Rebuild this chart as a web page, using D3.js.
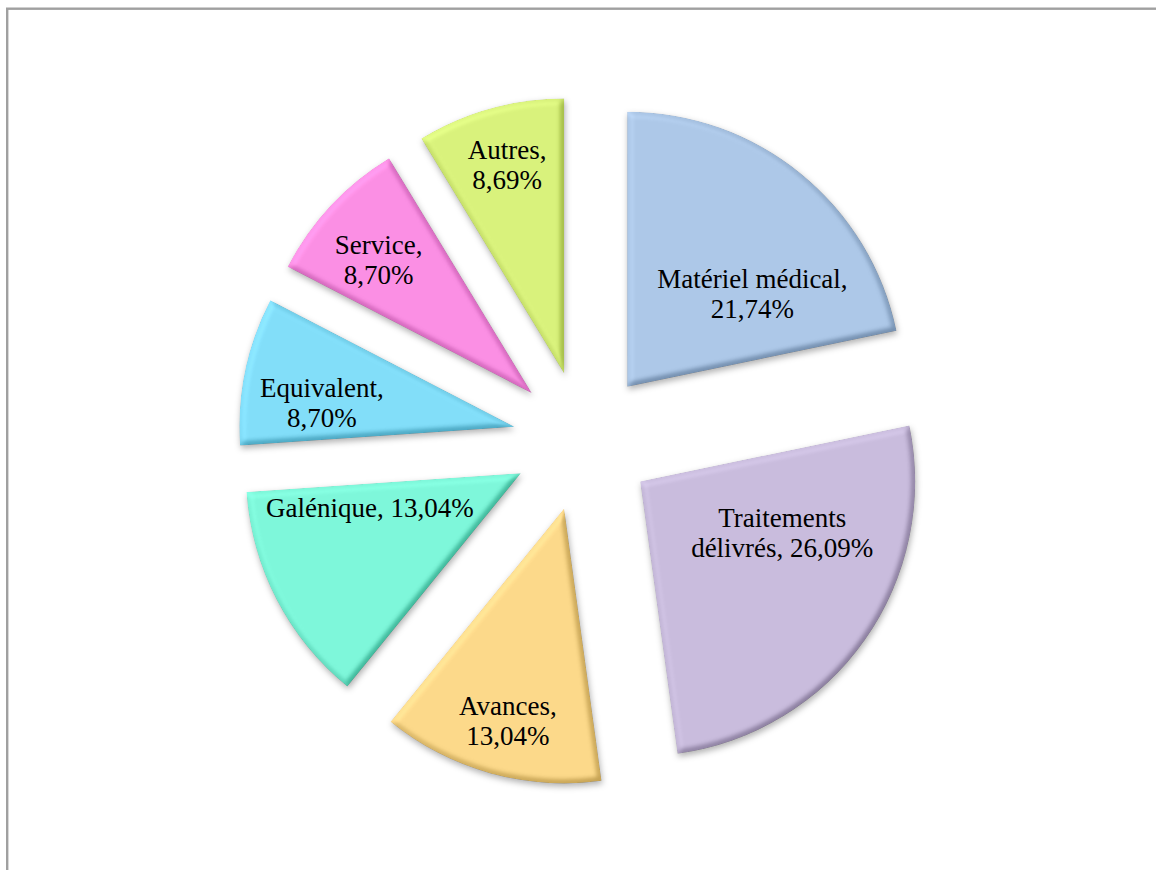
<!DOCTYPE html>
<html>
<head>
<meta charset="utf-8">
<script src="https://cdn.jsdelivr.net/npm/d3@7"></script>
<style>
  html, body { margin: 0; padding: 0; background: #fff; }
  svg { display: block; }
</style>
</head>
<body>
<div id="chart"></div>
<script>
const categories = [
  'Matériel médical',
  'Traitements délivrés',
  'Avances',
  'Galénique',
  'Equivalent',
  'Service',
  'Autres',
];
const values = [21.74, 26.09, 13.04, 13.04, 8.7, 8.7, 8.69];
const colors = [
  '#adc8e8',
  '#c9bcdd',
  '#fcd98a',
  '#7ef7da',
  '#82def9',
  '#fb8fe4',
  '#d9f27c',
];

// label placement: distance from slice tip, angle (deg, clockwise from up), wrap width
const labelLayout = [
  [156, 53.4, 210],
  [151, 109.8, 200],
  [220, 194.8, 150],
  [155, 256.9, 220],
  [194, 277.1, 150],
  [203, 311, 150],
  [216, 344.7, 150],
];

const width = 1156;
const height = 870;
const cx = 583;
const cy = 441;
const radius = 275;
const explode = 70;
const lineHeight = 30;
const lightElevation = 55;
const bevelStrength = 0.28;

const svg = d3
  .select('#chart')
  .append('svg')
  .attr('width', width)
  .attr('height', height)
  .attr('xmlns', 'http://www.w3.org/2000/svg');

/* Filter: soft bevel + shadow
-----------------------------------------------------------------------------*/
const defs = svg.append('defs');
const filter = defs
  .append('filter')
  .attr('id', 'bevel')
  .attr('x', '-10%')
  .attr('y', '-10%')
  .attr('width', '120%')
  .attr('height', '125%')
  .attr('color-interpolation-filters', 'sRGB');

filter
  .append('feGaussianBlur')
  .attr('in', 'SourceAlpha')
  .attr('stdDeviation', 3)
  .attr('result', 'blur');

filter
  .append('feDiffuseLighting')
  .attr('in', 'blur')
  .attr('surfaceScale', 6)
  .attr('diffuseConstant', 1)
  .attr('lighting-color', '#ffffff')
  .attr('result', 'light')
  .append('feDistantLight')
  .attr('azimuth', 225)
  .attr('elevation', lightElevation);

// flat areas keep their colour, edges get lighter or darker
filter
  .append('feComposite')
  .attr('in', 'SourceGraphic')
  .attr('in2', 'light')
  .attr('operator', 'arithmetic')
  .attr('k1', 0)
  .attr('k2', 1)
  .attr('k3', bevelStrength)
  .attr('k4', -bevelStrength * Math.sin((lightElevation * Math.PI) / 180))
  .attr('result', 'lit');

filter
  .append('feComposite')
  .attr('in', 'lit')
  .attr('in2', 'SourceAlpha')
  .attr('operator', 'in')
  .attr('result', 'litIn');

filter
  .append('feGaussianBlur')
  .attr('in', 'SourceAlpha')
  .attr('stdDeviation', 3)
  .attr('result', 'sblur');
filter
  .append('feOffset')
  .attr('in', 'sblur')
  .attr('dx', 1)
  .attr('dy', 3)
  .attr('result', 'soff');
filter
  .append('feFlood')
  .attr('flood-color', '#000')
  .attr('flood-opacity', 0.3)
  .attr('result', 'flood');
filter
  .append('feComposite')
  .attr('in', 'flood')
  .attr('in2', 'soff')
  .attr('operator', 'in')
  .attr('result', 'shadow');

const merge = filter.append('feMerge');
merge.append('feMergeNode').attr('in', 'shadow');
merge.append('feMergeNode').attr('in', 'litIn');

/* Frame
-----------------------------------------------------------------------------*/
svg
  .append('rect')
  .attr('x', 7.2)
  .attr('y', 8.7)
  .attr('width', width + 20)
  .attr('height', height + 20)
  .attr('fill', 'none')
  .attr('stroke', '#a0a0a0')
  .attr('stroke-width', 2.4);

/* Pie
-----------------------------------------------------------------------------*/
const data = categories.map((name, i) => ({
  name,
  value: values[i],
  color: colors[i],
  layout: labelLayout[i],
}));

const pie = d3
  .pie()
  .sort(null)
  .value((d) => d.value)
  .startAngle(0)
  .endAngle(2 * Math.PI);

const arc = d3.arc().innerRadius(0).outerRadius(radius);

const slices = svg
  .append('g')
  .attr('transform', `translate(${cx}, ${cy})`)
  .selectAll('g.slice')
  .data(pie(data))
  .join('g')
  .attr('class', 'slice')
  .attr('transform', (d) => {
    const mid = (d.startAngle + d.endAngle) / 2;
    return `translate(${explode * Math.sin(mid)}, ${-explode * Math.cos(mid)})`;
  });

slices
  .append('path')
  .attr('d', arc)
  .attr('fill', (d) => d.data.color)
  .attr('filter', 'url(#bevel)');

/* Labels
-----------------------------------------------------------------------------*/
function formatValue(v) {
  return v.toFixed(2).replace('.', ',') + '%';
}

slices.each(function (d) {
  const [dist, angleDeg, wrapWidth] = d.data.layout;
  const a = (angleDeg * Math.PI) / 180;
  const lx = dist * Math.sin(a);
  const ly = -dist * Math.cos(a);

  const text = d3
    .select(this)
    .append('text')
    .attr('text-anchor', 'middle')
    .attr('font-family', "'Liberation Serif', 'Times New Roman', serif")
    .attr('font-size', 27)
    .attr('fill', '#000');

  const words = `${d.data.name}, ${formatValue(d.data.value)}`.split(' ');
  const lines = [];
  let current = [];
  const probe = text.append('tspan');
  words.forEach((w) => {
    const trial = current.concat(w).join(' ');
    probe.text(trial);
    if (current.length && probe.node().getComputedTextLength() > wrapWidth) {
      lines.push(current.join(' '));
      current = [w];
    } else {
      current.push(w);
    }
  });
  lines.push(current.join(' '));
  probe.remove();

  lines.forEach((line, i) => {
    text
      .append('tspan')
      .attr('x', lx)
      .attr('y', ly + (i - (lines.length - 1) / 2) * lineHeight + 9)
      .text(line);
  });
});
</script>
</body>
</html>
